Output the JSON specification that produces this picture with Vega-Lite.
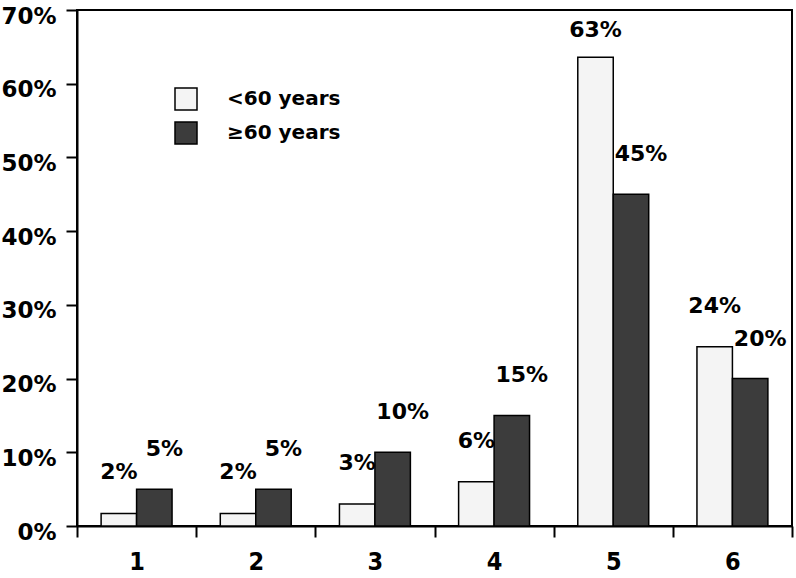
{
  "$schema": "https://vega.github.io/schema/vega-lite/v6.json",
  "width": 715,
  "height": 516,
  "autosize": {"type": "none"},
  "padding": {"left": 77, "top": 10, "right": 4, "bottom": 52},
  "background": "white",
  "config": {
    "view": {"stroke": "black", "strokeWidth": 2},
    "font": "DejaVu Sans",
    "axis": {
      "domainColor": "black", "domainWidth": 2,
      "tickColor": "black", "tickWidth": 2, "tickSize": 11,
      "labelFont": "DejaVu Sans", "labelFontWeight": "bold",
      "labelColor": "black", "grid": false, "title": null
    }
  },
  "data": {"values": [
    {"category": "1", "group": "<60 years", "value": 1.7, "label": "2%"},
    {"category": "1", "group": "≥60 years", "value": 5, "label": "5%"},
    {"category": "2", "group": "<60 years", "value": 1.7, "label": "2%"},
    {"category": "2", "group": "≥60 years", "value": 5, "label": "5%"},
    {"category": "3", "group": "<60 years", "value": 3, "label": "3%"},
    {"category": "3", "group": "≥60 years", "value": 10, "label": "10%"},
    {"category": "4", "group": "<60 years", "value": 6, "label": "6%"},
    {"category": "4", "group": "≥60 years", "value": 15, "label": "15%"},
    {"category": "5", "group": "<60 years", "value": 63.6, "label": "63%"},
    {"category": "5", "group": "≥60 years", "value": 45, "label": "45%"},
    {"category": "6", "group": "<60 years", "value": 24.3, "label": "24%"},
    {"category": "6", "group": "≥60 years", "value": 20, "label": "20%"}
  ]},
  "encoding": {
    "x": {
      "field": "category", "type": "nominal",
      "scale": {"paddingInner": 0, "paddingOuter": 0},
      "axis": {"labelAngle": 0, "tickBand": "extent", "labelFontSize": 25, "labelPadding": 12, "labelFont": "DejaVu Sans Condensed"}
    },
    "xOffset": {
      "field": "group", "type": "nominal",
      "scale": {"domain": ["<60 years", "≥60 years"], "paddingInner": 0, "paddingOuter": 0.68}
    },
    "y": {
      "field": "value", "type": "quantitative",
      "scale": {"domain": [0, 70], "nice": false},
      "axis": {"values": [0, 10, 20, 30, 40, 50, 60, 70], "labelExpr": "datum.value + '%'", "labelFontSize": 23, "labelPadding": 10, "labelOffset": 6}
    }
  },
  "layer": [
    {
      "mark": {"type": "bar", "stroke": "black", "strokeWidth": 1.5},
      "encoding": {
        "color": {
          "field": "group", "type": "nominal",
          "scale": {"domain": ["<60 years", "≥60 years"], "range": ["#f4f4f4", "#3c3c3c"]},
          "legend": {
            "orient": "none", "legendX": 97, "legendY": 77, "title": null,
            "symbolType": "square", "symbolSize": 484,
            "symbolStrokeColor": "black", "symbolStrokeWidth": 1.5, "symbolOpacity": 1,
            "labelFontSize": 20, "labelFontWeight": "bold", "labelColor": "black",
            "labelFont": "DejaVu Sans", "labelOffset": 29, "rowPadding": 6
          }
        }
      }
    },
    {
      "transform": [{"filter": "datum.group == '<60 years' && datum.value < 60"}],
      "mark": {"type": "text", "fontSize": 22, "fontWeight": "bold", "baseline": "middle", "dy": -41, "dx": 0, "color": "black"},
      "encoding": {"text": {"field": "label"}}
    },
    {
      "transform": [{"filter": "datum.group == '<60 years' && datum.value >= 60"}],
      "mark": {"type": "text", "fontSize": 22, "fontWeight": "bold", "baseline": "middle", "dy": -27, "dx": 0, "color": "black"},
      "encoding": {"text": {"field": "label"}}
    },
    {
      "transform": [{"filter": "datum.group == '≥60 years'"}],
      "mark": {"type": "text", "fontSize": 22, "fontWeight": "bold", "baseline": "middle", "dy": -40, "dx": 10, "color": "black"},
      "encoding": {"text": {"field": "label"}}
    }
  ]
}
